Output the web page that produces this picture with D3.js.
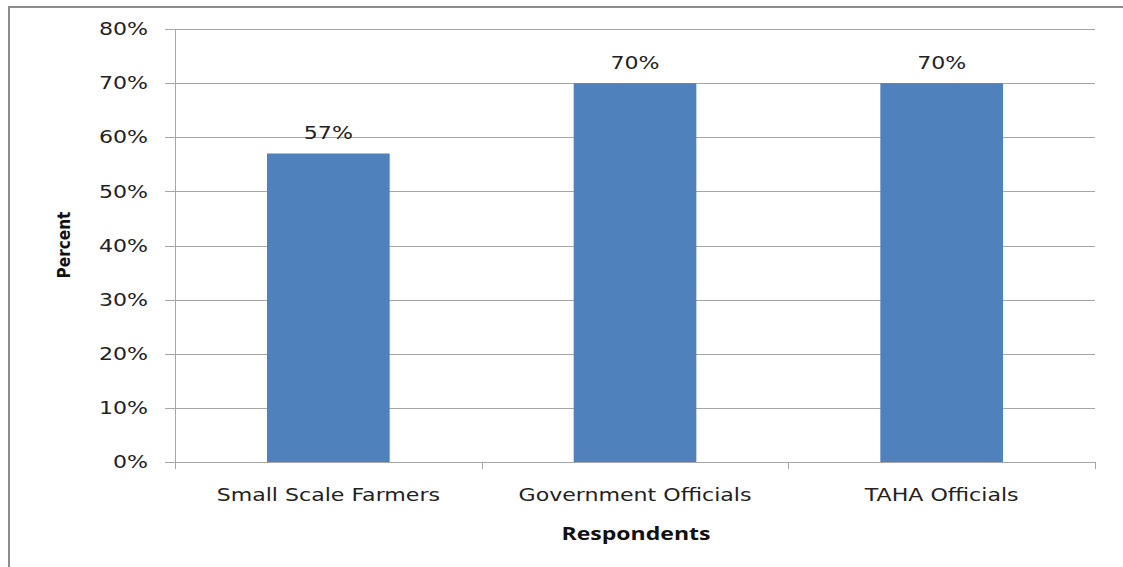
<!DOCTYPE html>
<html lang="en">
<head>
<meta charset="UTF-8">
<title>Respondents</title>
<style>
  body { margin: 0; background: #fff; }
  svg { display: block; }
</style>
</head>
<body>
<svg id="chart"></svg>
<script src="https://cdn.jsdelivr.net/npm/d3@7"></script>
<script>
const categories = ['Small Scale Farmers', 'Government Officials', 'TAHA Officials'];
const values = [57, 70, 70];
const yTicks = [0, 10, 20, 30, 40, 50, 60, 70, 80];

const W = 1123, H = 567;
const plotLeft = 175, plotRight = 1095, plotTop = 29, plotBottom = 462;
const stretch = 1.3; // the original text is drawn wide

const svg = d3.select('#chart').attr('width', W).attr('height', H);

// outer frame (left + top edges visible)
svg.append('path')
    .attr('d', `M9,${H} V7 H${W}`)
    .attr('fill', 'none')
    .attr('stroke', '#8c8c8c')
    .attr('stroke-width', 2);

const x = d3.scaleBand()
    .domain(categories)
    .range([plotLeft, plotRight])
    .paddingInner(0.6)
    .paddingOuter(0.3);

const y = d3.scaleLinear()
    .domain([0, 80])
    .range([plotBottom, plotTop]);

// gridlines
svg.append('g')
    .selectAll('line')
    .data(yTicks)
    .join('line')
    .attr('x1', plotLeft - 10)
    .attr('x2', plotRight)
    .attr('y1', d => Math.round(y(d)) + 0.5)
    .attr('y2', d => Math.round(y(d)) + 0.5)
    .attr('stroke', '#a6a6a6');

// y axis line
svg.append('line')
    .attr('x1', plotLeft + 0.5).attr('x2', plotLeft + 0.5)
    .attr('y1', plotTop).attr('y2', plotBottom)
    .attr('stroke', '#a6a6a6');

// y tick labels
svg.append('g')
    .selectAll('text')
    .data(yTicks)
    .join('text')
    .attr('transform', d => `translate(148,${y(d)}) scale(${stretch},1)`)
    .attr('dy', '0.36em')
    .attr('text-anchor', 'end')
    .attr('font-family', 'DejaVu Sans')
    .attr('font-size', 17)
    .attr('fill', '#222')
    .text(d => d + '%');

// x category ticks
const xTickPos = [plotLeft, ...categories.map(c => x(c) + x.bandwidth() / 2 + x.step() / 2)];
svg.append('g')
    .selectAll('line')
    .data(xTickPos)
    .join('line')
    .attr('x1', d => Math.round(d) + 0.5)
    .attr('x2', d => Math.round(d) + 0.5)
    .attr('y1', plotBottom)
    .attr('y2', plotBottom + 7)
    .attr('stroke', '#a6a6a6');

// bars
svg.append('g')
    .selectAll('rect')
    .data(values)
    .join('rect')
    .attr('x', (d, i) => x(categories[i]))
    .attr('y', d => y(d))
    .attr('width', x.bandwidth())
    .attr('height', d => y(0) - y(d))
    .attr('fill', '#4f81bd');

// value labels
svg.append('g')
    .selectAll('text')
    .data(values)
    .join('text')
    .attr('transform', (d, i) => `translate(${x(categories[i]) + x.bandwidth() / 2},${y(d) - 14}) scale(${stretch},1)`)
    .attr('text-anchor', 'middle')
    .attr('font-family', 'DejaVu Sans')
    .attr('font-size', 17)
    .attr('fill', '#222')
    .text(d => d + '%');

// category labels
svg.append('g')
    .selectAll('text')
    .data(categories)
    .join('text')
    .attr('transform', d => `translate(${x(d) + x.bandwidth() / 2},501) scale(${stretch},1)`)
    .attr('text-anchor', 'middle')
    .attr('font-family', 'DejaVu Sans')
    .attr('font-size', 17)
    .attr('fill', '#222')
    .text(d => d);

// axis titles
svg.append('text')
    .attr('transform', `translate(636,540) scale(1.28,1)`)
    .attr('text-anchor', 'middle')
    .attr('font-family', 'Open Sans')
    .attr('font-weight', 'bold')
    .attr('font-size', 18)
    .attr('fill', '#111')
    .text('Respondents');

svg.append('text')
    .attr('transform', 'translate(70,245) rotate(-90)')
    .attr('text-anchor', 'middle')
    .attr('font-family', 'DejaVu Sans Condensed')
    .attr('font-weight', 'bold')
    .attr('font-size', 17)
    .attr('fill', '#111')
    .text('Percent');
</script>
</body>
</html>
